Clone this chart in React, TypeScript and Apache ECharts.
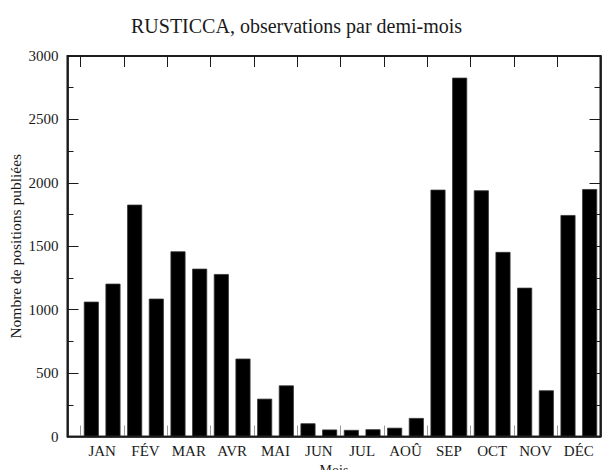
import React, { useEffect, useRef } from "react";
import * as echarts from "echarts";

const months = ["JAN", "FÉV", "MAR", "AVR", "MAI", "JUN", "JUL", "AOÛ", "SEP", "OCT", "NOV", "DÉC"];
// one value per half-month (24)
const halfMonthCounts = [
  1063, 1205, 1828, 1087, 1460, 1323, 1281, 614, 298, 403, 104, 55,
  52, 57, 69, 146, 1946, 2829, 1941, 1455, 1173, 364, 1746, 1951,
];
const yTicks = [0, 500, 1000, 1500, 2000, 2500, 3000];

const FONT = "Liberation Serif";
const INK = "#1a1a1a";
const W = 602;
const H = 470;
const G = { left: 67.5, right: 1.5, top: 56, bottom: 33.5 };

export default function App() {
  const ref = useRef<HTMLDivElement>(null);
  useEffect(() => {
    if (!ref.current) return;
    const chart = echarts.init(ref.current, null, { renderer: "svg" });
    const monthBounds = months.map((_, i) => i).concat([months.length]);
    const monthCenters = months.map((_, i) => i + 0.5);
    const barData = halfMonthCounts.map((v, i) => [i * 0.5 + 0.25, v]);
    const gridBox = { ...G, outerBoundsMode: "none", containLabel: false };
    const axisLine = () => ({ show: true, onZero: false, lineStyle: { color: INK, width: 1.6 } });
    const xCommon = () => ({
      type: "value" as const,
      min: -0.3,
      max: months.length,
      splitLine: { show: false },
      axisLine: axisLine(),
    });
    const yCommon = () => ({
      type: "value" as const,
      min: yTicks[0],
      max: yTicks[yTicks.length - 1],
      interval: 500,
      splitLine: { show: false },
      axisLine: axisLine(),
      axisTick: { show: true, inside: true, length: 11, lineStyle: { color: INK, width: 1 } },
      minorTick: { show: true, splitNumber: 2, length: 6, lineStyle: { color: INK, width: 1 } },
    });
    const blankLabel = { show: true, formatter: () => "" };
    chart.setOption({
      animation: false,
      backgroundColor: "#ffffff",
      title: {
        text: "RUSTICCA, observations par demi-mois",
        left: 126,
        top: 11,
        textStyle: { fontFamily: FONT, fontSize: 20, fontWeight: "normal", color: INK },
      },
      grid: [
        { ...gridBox, show: true, backgroundColor: "rgba(0,0,0,0)", borderColor: INK, borderWidth: 1.6 },
        { ...gridBox, show: false },
      ],
      graphic: [
        {
          type: "rect",
          z: 50,
          silent: true,
          shape: { x: G.left, y: G.top, width: W - G.left - G.right, height: H - G.top - G.bottom },
          style: { fill: "none", stroke: INK, lineWidth: 1.6 },
        },
      ],
      xAxis: [
        {
          ...xCommon(),
          gridIndex: 0,
          position: "bottom",
          name: "Mois",
          nameLocation: "middle",
          nameGap: 23,
          nameTextStyle: { fontFamily: FONT, fontSize: 14, color: INK },
          axisTick: { show: true, inside: true, length: 11, customValues: monthBounds, lineStyle: { color: "#999", width: 1 } },
          axisLabel: {
            show: true,
            customValues: monthCenters,
            margin: 7,
            fontFamily: FONT,
            fontSize: 15,
            color: INK,
            formatter: (v: number) => months[Math.floor(v)] ?? "",
          },
        },
        {
          ...xCommon(),
          gridIndex: 1,
          position: "top",
          axisTick: { show: true, inside: true, length: 11, customValues: monthBounds, lineStyle: { color: INK, width: 1 } },
          axisLabel: blankLabel,
        },
      ],
      yAxis: [
        {
          ...yCommon(),
          gridIndex: 0,
          position: "left",
          name: "Nombre de positions publiées",
          nameLocation: "middle",
          nameGap: 44,
          nameMoveOverlap: false,
          nameTextStyle: { fontFamily: FONT, fontSize: 15.5, color: INK },
          axisLabel: {
            show: true,
            margin: 9,
            fontFamily: FONT,
            fontSize: 15,
            color: INK,
            formatter: (v: number) => String(v),
          },
        },
        {
          ...yCommon(),
          gridIndex: 1,
          position: "right",
          axisLabel: blankLabel,
        },
      ],
      series: [
        {
          type: "bar",
          xAxisIndex: 0,
          yAxisIndex: 0,
          data: barData,
          barWidth: 15,
          itemStyle: { color: "#000", borderColor: "#333", borderWidth: 0.8 },
        },
        {
          type: "bar",
          xAxisIndex: 1,
          yAxisIndex: 1,
          data: [],
          silent: true,
        },
      ],
    });
    return () => chart.dispose();
  }, []);
  return (
    <div
      ref={ref}
      style={{ position: "absolute", left: 0, top: 0, width: W, height: H, background: "#fff" }}
    />
  );
}
